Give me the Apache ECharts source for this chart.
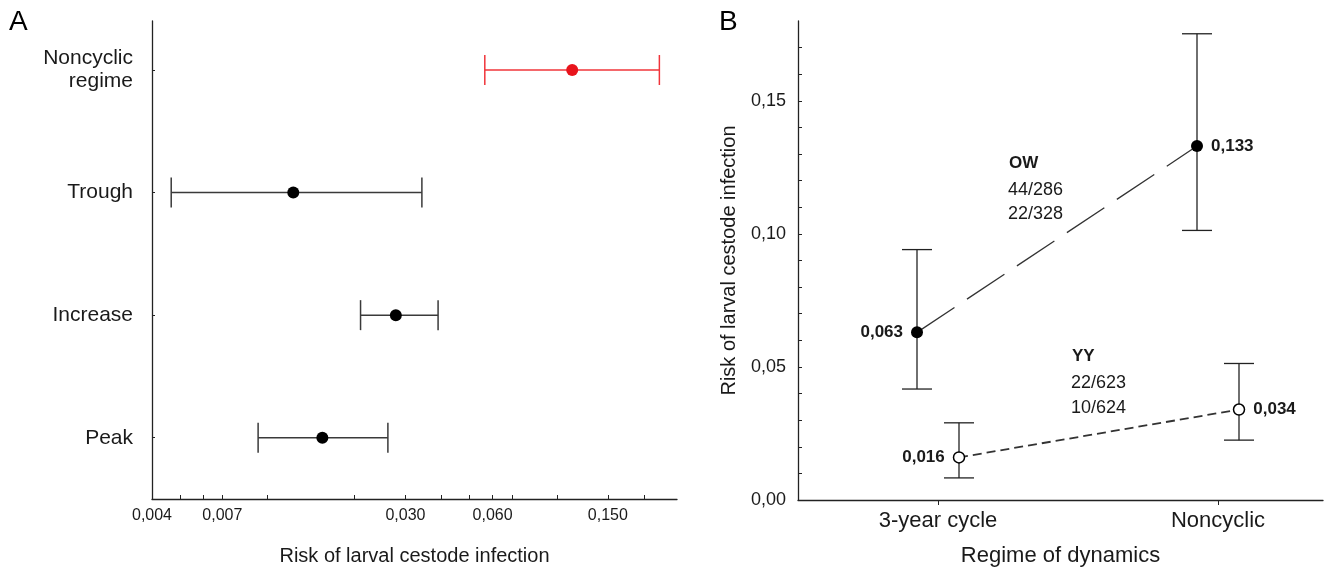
<!DOCTYPE html>
<html>
<head>
<meta charset="utf-8">
<script src="https://cdn.jsdelivr.net/npm/echarts@6/dist/echarts.min.js"></script>
<style>
  html, body { margin: 0; padding: 0; background: #fff; }
  #chart { width: 1325px; height: 572px; }
</style>
</head>
<body>
<div id="chart"></div>
<script>
// Panel A - risk by phase of the population cycle (log axis)
const phaseNames = ['Noncyclic\nregime', 'Trough', 'Increase', 'Peak'];
const phaseRisk = [0.113, 0.0123, 0.0278, 0.0155];
const phaseLow = [0.0564, 0.00466, 0.0210, 0.0093];
const phaseHigh = [0.226, 0.0342, 0.0389, 0.0261];
const riskTicks = [0.005, 0.006, 0.007, 0.01, 0.02, 0.03, 0.04, 0.05, 0.06, 0.07, 0.1, 0.15, 0.2];
const riskLabels = [0.004, 0.007, 0.03, 0.06, 0.15];

// Panel B - risk by regime of dynamics, two groups
const regimes = ['3-year cycle', 'Noncyclic'];
const owRisk = [0.063, 0.133];
const owLow = [0.0417, 0.1013];
const owHigh = [0.0941, 0.1752];
const yyRisk = [0.016, 0.034];
const yyLow = [0.0083, 0.0225];
const yyHigh = [0.0290, 0.0513];
const owCounts = ['44/286', '22/328'];
const yyCounts = ['22/623', '10/624'];
const bTicks = [0, 0.01, 0.02, 0.03, 0.04, 0.05, 0.06, 0.07, 0.08, 0.09, 0.10, 0.11, 0.12, 0.13, 0.14, 0.15, 0.16, 0.17];
const bLabels = [0, 0.05, 0.10, 0.15];

const DODGE = 0.075;
const TXT = '#1a1a1a';
const FONT = "'Liberation Sans', Arial, sans-serif";

const comma = (v, d) => v.toFixed(d).replace('.', ',');

const chart = echarts.init(document.getElementById('chart'));

// horizontal error bar with caps (panel A)
function hErr(params, api) {
  const a = api.coord([api.value(0), api.value(2)]);
  const b = api.coord([api.value(1), api.value(2)]);
  const color = params.dataIndex === 0 ? '#f0343a' : '#3a3a3a';
  const st = { stroke: color, lineWidth: 1.5 };
  const h = 15;
  return {
    type: 'group',
    children: [
      { type: 'line', shape: { x1: a[0], y1: a[1], x2: b[0], y2: b[1] }, style: st },
      { type: 'line', shape: { x1: a[0], y1: a[1] - h, x2: a[0], y2: a[1] + h }, style: st },
      { type: 'line', shape: { x1: b[0], y1: b[1] - h, x2: b[0], y2: b[1] + h }, style: st }
    ]
  };
}

// vertical error bar with caps (panel B)
function vErr(params, api) {
  const a = api.coord([api.value(0), api.value(1)]);
  const b = api.coord([api.value(0), api.value(2)]);
  const st = { stroke: '#222', lineWidth: 1.3 };
  const w = 15;
  return {
    type: 'group',
    children: [
      { type: 'line', shape: { x1: a[0], y1: a[1], x2: b[0], y2: b[1] }, style: st },
      { type: 'line', shape: { x1: a[0] - w, y1: a[1], x2: a[0] + w, y2: a[1] }, style: st },
      { type: 'line', shape: { x1: b[0] - w, y1: b[1], x2: b[0] + w, y2: b[1] }, style: st }
    ]
  };
}

const phasePos = phaseNames.map((n, i) => i + 1);
const aBars = phaseNames.map((n, i) => [phaseLow[i], phaseHigh[i], phasePos[i]]);
const aPoints = phaseNames.map((n, i) => [phaseRisk[i], phasePos[i]]);

const owX = regimes.map((r, i) => i + 1 - DODGE);
const yyX = regimes.map((r, i) => i + 1 + DODGE);
const pointLabel = (side) => ({
  show: true,
  position: side,
  distance: 8,
  formatter: (p) => comma(p.value[1], 3),
  color: TXT,
  fontFamily: FONT,
  fontWeight: 'bold',
  fontSize: 17
});

const axisLine = { show: true, lineStyle: { color: '#222', width: 1.3 } };

const option = {
  animation: false,
  backgroundColor: '#fff',
  textStyle: { fontFamily: FONT },
  grid: [
    { left: 152, top: 21, width: 525, height: 478 },
    { left: 798, top: 21, width: 525, height: 480.5 }
  ],
  xAxis: [
    {
      gridIndex: 0,
      type: 'log',
      logBase: 10,
      min: 0.004,
      max: 0.26,
      axisLine: axisLine,
      axisTick: { show: true, inside: true, length: 4, customValues: riskTicks, lineStyle: { color: '#222' } },
      axisLabel: {
        customValues: riskLabels,
        formatter: (v) => comma(v, 3),
        color: TXT, fontSize: 16, margin: 9
      },
      splitLine: { show: false },
      minorTick: { show: false },
      name: 'Risk of larval cestode infection',
      nameLocation: 'middle',
      nameGap: 47,
      nameTextStyle: { color: TXT, fontSize: 20 }
    },
    {
      gridIndex: 1,
      type: 'value',
      min: 0.5,
      max: 2.375,
      axisLine: axisLine,
      axisTick: { show: true, inside: false, length: 5, customValues: [1, 2], lineStyle: { color: '#222' } },
      axisLabel: {
        customValues: [1, 2],
        formatter: (v) => regimes[Math.round(v) - 1],
        color: TXT, fontSize: 22, margin: 10
      },
      splitLine: { show: false },
      name: 'Regime of dynamics',
      nameLocation: 'middle',
      nameGap: 45,
      nameTextStyle: { color: TXT, fontSize: 22 }
    }
  ],
  yAxis: [
    {
      gridIndex: 0,
      type: 'value',
      inverse: true,
      min: 0.6,
      max: 4.5,
      axisLine: axisLine,
      axisTick: { show: true, inside: true, length: 3, customValues: phasePos, lineStyle: { color: '#222' } },
      axisLabel: {
        customValues: phasePos,
        formatter: (v) => phaseNames[Math.round(v) - 1],
        color: TXT, fontSize: 21, margin: 19, lineHeight: 23, align: 'right'
      },
      splitLine: { show: false }
    },
    {
      gridIndex: 1,
      type: 'value',
      min: 0,
      max: 0.18,
      axisLine: axisLine,
      axisTick: { show: true, inside: true, length: 4, customValues: bTicks, lineStyle: { color: '#222' } },
      axisLabel: {
        customValues: bLabels,
        formatter: (v) => comma(v, 2),
        color: TXT, fontSize: 18, margin: 12
      },
      splitLine: { show: false },
      name: 'Risk of larval cestode infection',
      nameLocation: 'middle',
      nameGap: 59,
      nameTextStyle: { color: TXT, fontSize: 20 }
    }
  ],
  series: [
    {
      type: 'custom',
      xAxisIndex: 0, yAxisIndex: 0,
      renderItem: hErr,
      encode: { x: [0, 1], y: 2 },
      data: aBars,
      z: 2
    },
    {
      type: 'scatter',
      xAxisIndex: 0, yAxisIndex: 0,
      symbol: 'circle',
      symbolSize: 12,
      itemStyle: { color: (p) => (p.dataIndex === 0 ? '#e8141c' : '#000'), opacity: 1 },
      data: aPoints,
      z: 3
    },
    {
      type: 'custom',
      xAxisIndex: 1, yAxisIndex: 1,
      renderItem: vErr,
      encode: { x: 0, y: [1, 2] },
      data: regimes.map((r, i) => [owX[i], owLow[i], owHigh[i]])
        .concat(regimes.map((r, i) => [yyX[i], yyLow[i], yyHigh[i]])),
      z: 2
    },
    {
      name: 'OW',
      type: 'line',
      xAxisIndex: 1, yAxisIndex: 1,
      symbol: 'circle',
      symbolSize: 12,
      showAllSymbol: true,
      itemStyle: { color: '#000' },
      lineStyle: { color: '#333', width: 1.3, type: [45, 15] },
      data: regimes.map((r, i) => ({ value: [owX[i], owRisk[i]], label: pointLabel(i === 0 ? 'left' : 'right') })),
      z: 3
    },
    {
      name: 'YY',
      type: 'line',
      xAxisIndex: 1, yAxisIndex: 1,
      symbol: 'circle',
      symbolSize: 11,
      showAllSymbol: true,
      itemStyle: { color: '#fff', borderColor: '#000', borderWidth: 1.5 },
      lineStyle: { color: '#333', width: 1.8, type: [9, 5] },
      data: regimes.map((r, i) => ({ value: [yyX[i], yyRisk[i]], label: pointLabel(i === 0 ? 'left' : 'right') })),
      z: 3
    }
  ],
  graphic: [
    { type: 'text', left: 9, top: 8, style: { text: 'A', font: "28px " + FONT, fill: '#000' } },
    { type: 'text', left: 719, top: 8, style: { text: 'B', font: "28px " + FONT, fill: '#000' } },
    { type: 'text', left: 1009, top: 155, style: { text: 'OW', font: "bold 17px " + FONT, fill: TXT } },
    { type: 'text', left: 1008, top: 178, style: { text: owCounts.join('\n'), font: "18px " + FONT, fill: TXT, lineHeight: 24 } },
    { type: 'text', left: 1072, top: 348, style: { text: 'YY', font: "bold 17px " + FONT, fill: TXT } },
    { type: 'text', left: 1071, top: 371, style: { text: yyCounts.join('\n'), font: "18px " + FONT, fill: TXT, lineHeight: 25 } }
  ]
};

chart.setOption(option);
</script>
</body>
</html>
